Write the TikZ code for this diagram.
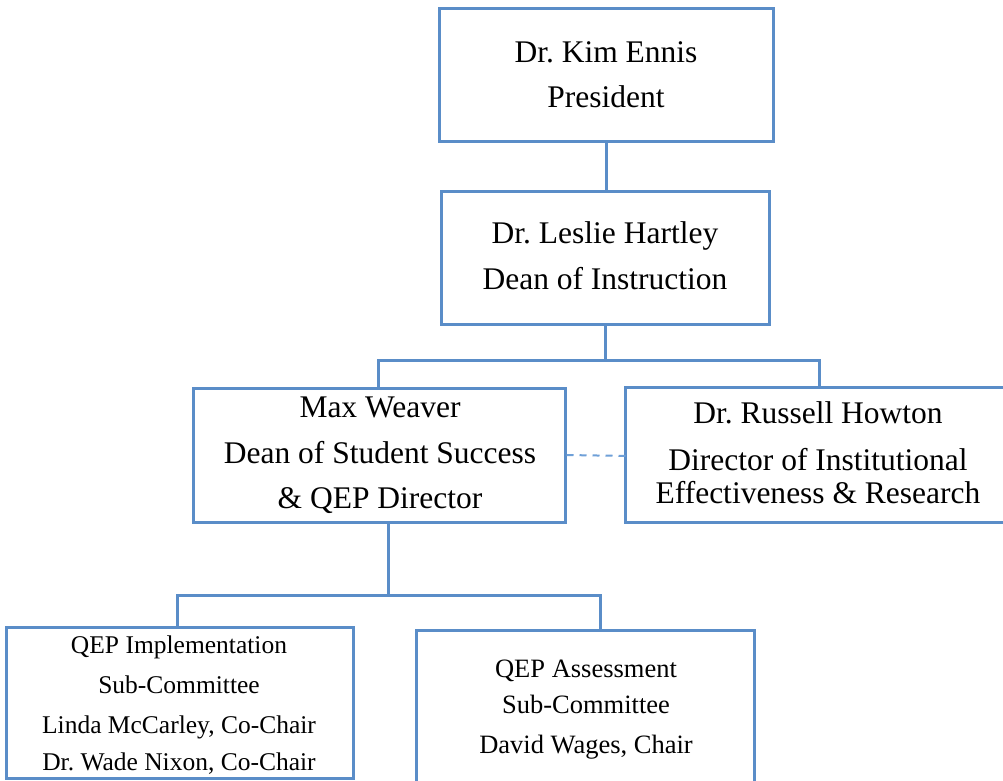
\documentclass[tikz,border=0pt]{standalone}
\usepackage{fontspec}
\setmainfont{Liberation Serif}
\frenchspacing
\definecolor{boxblue}{HTML}{5A8DC8}
\definecolor{dashblue}{HTML}{6FA0D8}
\begin{document}
\begin{tikzpicture}[x=1pt,y=-1pt,
  box/.style={draw=boxblue,line width=3pt,rectangle,inner sep=0pt,fill=white},
  conn/.style={draw=boxblue,line width=3pt},
  dashconn/.style={draw=dashblue,line width=2pt,dash pattern=on 7pt off 6pt},
  big/.style={anchor=base,inner sep=0pt,font=\fontsize{31.5}{36}\selectfont},
  mid/.style={anchor=base,inner sep=0pt,font=\fontsize{26.5}{30}\selectfont},
  small/.style={anchor=base,inner sep=0pt,font=\fontsize{25.5}{30}\selectfont}]
\useasboundingbox (0,0) rectangle (1003,780);
\fill[white] (0,0) rectangle (1003,780);

% boxes
\node[box,minimum width=334pt,minimum height=133pt] (ennis) at (606,74.5) {};
\node[box,minimum width=328pt,minimum height=133pt] (hartley) at (605,257.5) {};
\node[box,minimum width=372pt,minimum height=134pt] (weaver) at (379,455) {};
\node[box,minimum width=386pt,minimum height=135pt] (howton) at (818,454.5) {};
\node[box,minimum width=347pt,minimum height=151pt] (impl) at (179.5,702.5) {};
\node[box,minimum width=338pt,minimum height=160pt] (assess) at (585.5,710) {};

% texts
\node[big] (t1a) at (606,62) {Dr. Kim Ennis};
\node[big] (t1b) at (606,107) {President};
\node[big] (t2a) at (605,243) {Dr. Leslie Hartley};
\node[big] (t2b) at (605,289) {Dean of Instruction};
\node[big] (t3a) at (380,417) {Max Weaver};
\node[big] (t3b) at (380,463) {Dean of Student Success};
\node[big] (t3c) at (380,508) {\& QEP Director};
\node[big] (t4a) at (818,423) {Dr. Russell Howton};
\node[big] (t4b) at (818,470) {Director of Institutional};
\node[big] (t4c) at (818,503) {Effectiveness \& Research};
\node[small] (t5a) at (179,653) {QEP Implementation};
\node[small] (t5b) at (179,693) {Sub-Committee};
\node[small] (t5c) at (179,733) {Linda McCarley, Co-Chair};
\node[small] (t5d) at (179,770) {Dr. Wade Nixon, Co-Chair};
\node[mid] (t6a) at (586,677) {QEP Assessment};
\node[mid] (t6b) at (586,713) {Sub-Committee};
\node[mid] (t6c) at (586,753) {David Wages, Chair};

% connectors
\coordinate (j1) at (605,360);
\coordinate (j2) at (388,595);
\draw[conn] (ennis.south) -- (ennis.south |- hartley.north);
\draw[conn] (hartley.south) -- (j1);
\draw[conn] ([xshift=-1pt]weaver.north) |- (j1) -| ([xshift=1pt]howton.north);
\draw[conn] ([xshift=9pt]weaver.south) -- (j2);
\draw[conn] ([xshift=-2.5pt]impl.north) |- (j2) -| ([xshift=14.5pt]assess.north);
\draw[dashconn] (weaver.east) -- ([xshift=5pt,yshift=-1.5pt]howton.west);
\end{tikzpicture}
\end{document}
